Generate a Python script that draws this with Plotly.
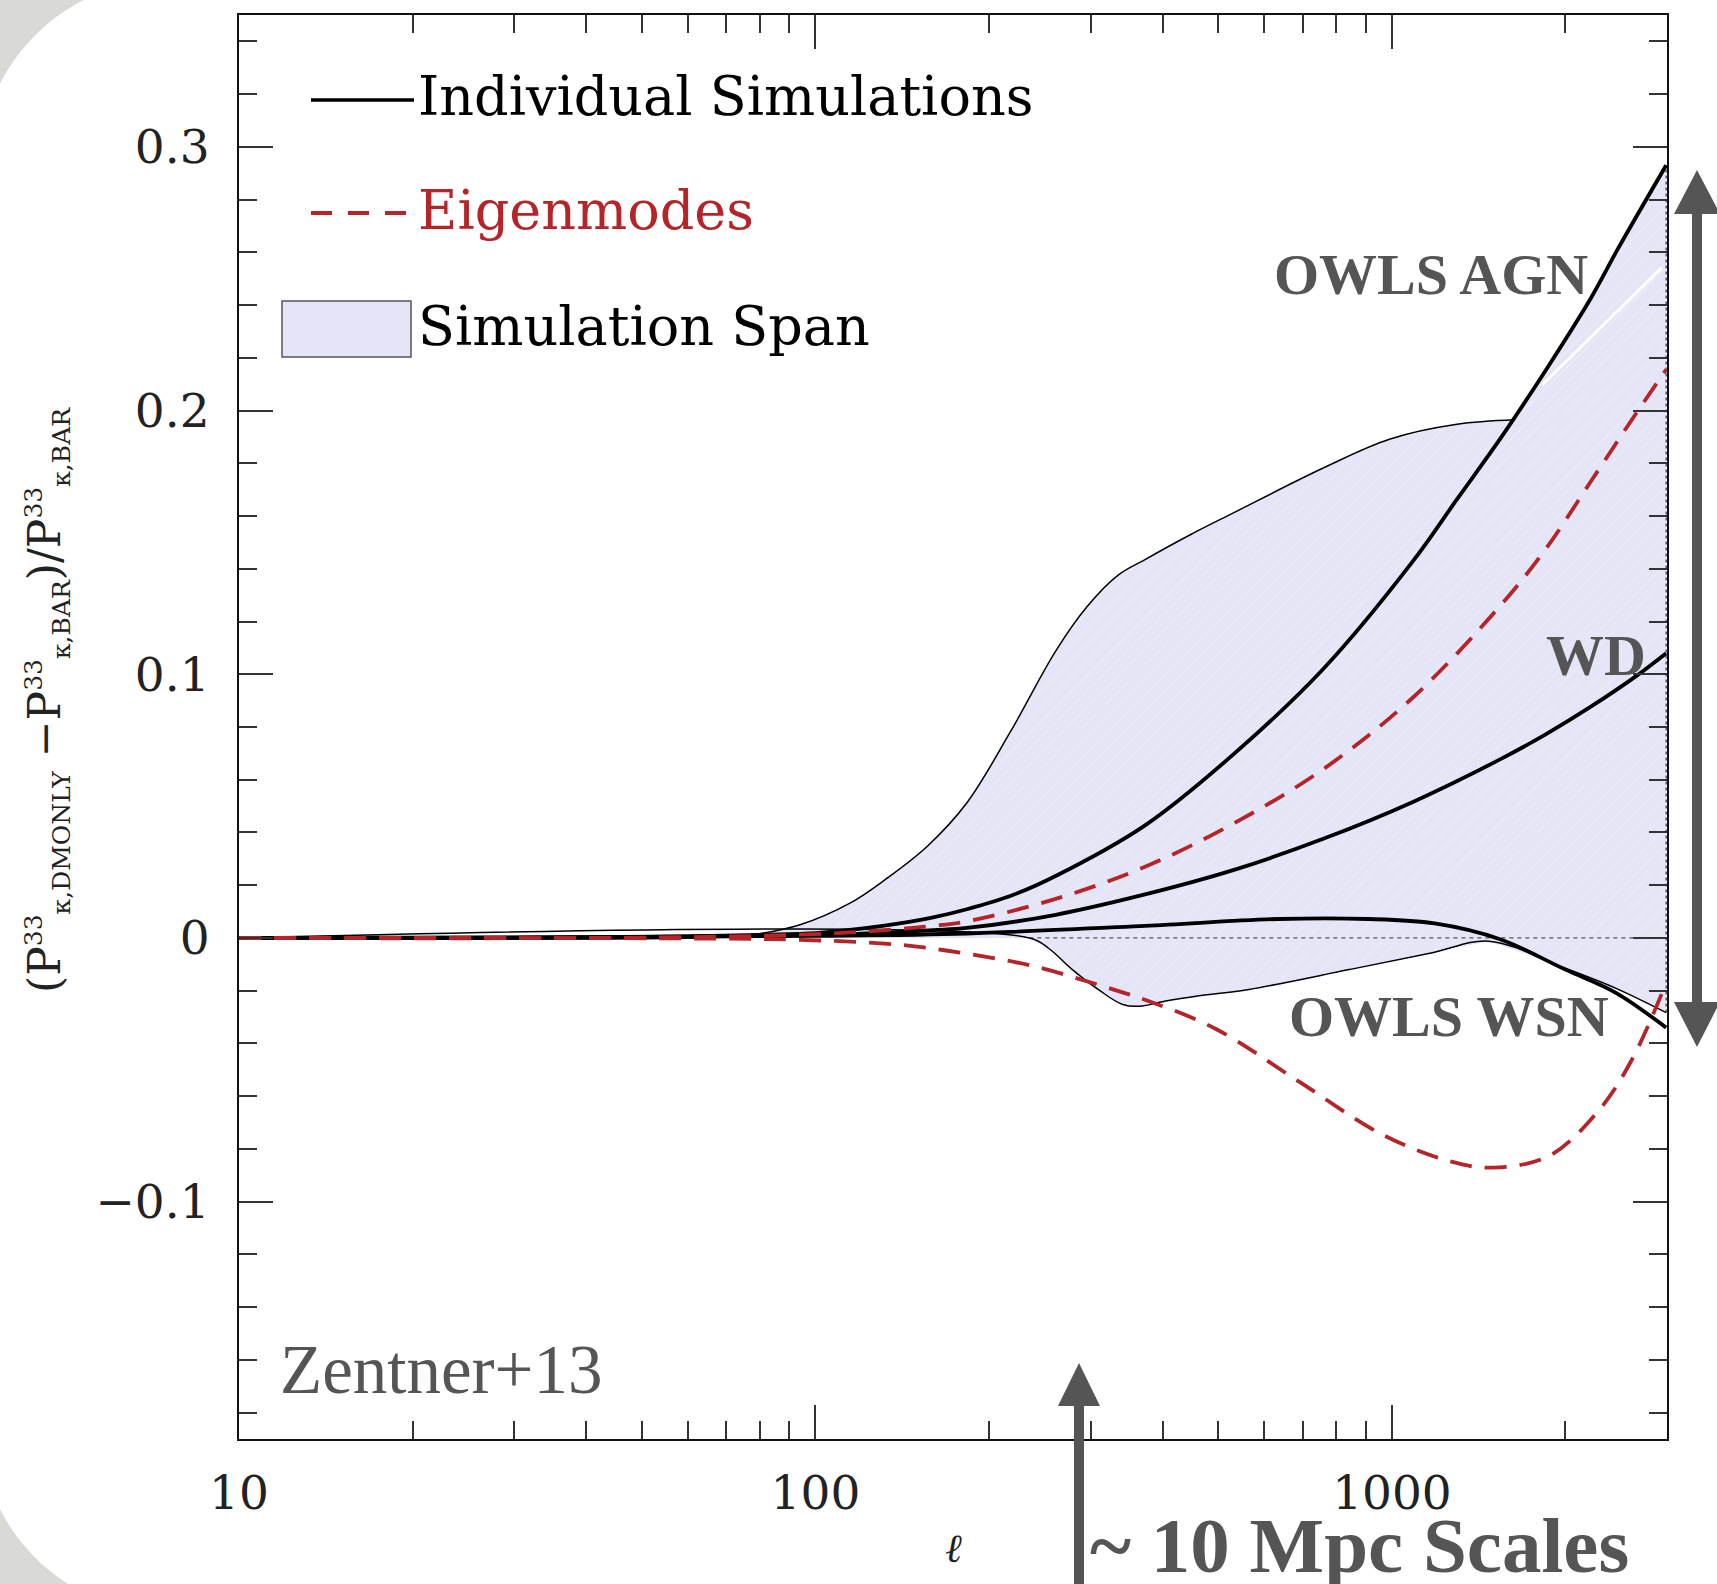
import numpy as np
import plotly.graph_objects as go

# ---------------- data ----------------
agn_l = [10, 20, 40, 60, 80, 100, 120, 140, 160, 183, 220, 261, 373, 532, 760, 1085, 1297, 1549, 1851, 2213, 2464, 2990]
agn_y = [0.0, 0.0, 0.0003, 0.0006, 0.0012, 0.0018, 0.0035, 0.0055, 0.0078, 0.0109, 0.0163, 0.0235, 0.0427, 0.0698,
         0.102, 0.1426, 0.1664, 0.190, 0.2155, 0.2426, 0.2612, 0.293]

wd_l = [10, 40, 80, 114, 160, 183, 261, 373, 532, 760, 1085, 1549, 1851, 2213, 2644, 2990]
wd_y = [0.0, 0.0002, 0.0008, 0.0015, 0.003, 0.0038, 0.0088, 0.0165, 0.0258, 0.0376, 0.0515, 0.068, 0.0773,
        0.0877, 0.0991, 0.108]

wsn_l = [10, 40, 100, 183, 373, 636, 908, 1186, 1540, 2000, 2442, 2990]
wsn_y = [0.0, 0.0002, 0.0008, 0.0017, 0.0046, 0.0072, 0.0072, 0.0055, -0.0005, -0.012, -0.0207, -0.034]

span_hi_l = [10, 60, 78, 94, 115, 133, 156, 183, 218, 261, 296, 335, 373, 446, 532, 760, 993, 1297, 1635, 1851,
             2213, 2464, 2990]
span_hi_y = [0.0, 0.0, 0.0013, 0.005, 0.0133, 0.0226, 0.0346, 0.0512, 0.0783, 0.1088, 0.1257, 0.1376, 0.1435,
             0.1528, 0.1613, 0.1782, 0.1892, 0.1948, 0.1965, 0.2155, 0.2426, 0.2612, 0.293]
span_hi_join = 1635   # where the upper envelope meets the OWLS AGN curve

span_lo_l = [10, 235, 254, 279, 311, 341, 365, 405, 463, 565, 843, 1175, 1472, 2000, 2442, 2990]
span_lo_y = [0.0, 0.0, -0.004, -0.012, -0.0199, -0.0252, -0.0259, -0.0239, -0.0219, -0.0195, -0.012, -0.0056,
             -0.0012, -0.0115, -0.019, -0.0283]

eig1_l = [10, 60, 113, 160, 183, 261, 373, 532, 760, 1085, 1549, 1851, 2213, 2644, 2990]
eig1_y = [0.0, 0.0003, 0.002, 0.0046, 0.0063, 0.0148, 0.027, 0.0435, 0.064, 0.091, 0.1265, 0.1477, 0.1731,
          0.1985, 0.2155]

eig2_l = [10, 60, 94, 140, 182, 238, 311, 379, 495, 690, 961, 1256, 1493, 1871, 2284, 2610, 2990]
eig2_y = [0.0, -0.0002, -0.0007, -0.0026, -0.0059, -0.0106, -0.0179, -0.024, -0.0345, -0.0545, -0.0745, -0.0846,
          -0.0871, -0.0827, -0.0654, -0.046, -0.017]

seam_l = [1822, 2939]
seam_y = [0.2097, 0.2542]

x_tickvals = [10, 100, 1000]
x_ticktext = ["10", "100", "1000"]
x_minor = [20, 30, 40, 50, 60, 70, 80, 90, 200, 300, 400, 500, 600, 700, 800, 900, 2000]
y_tickvals = [-0.1, 0, 0.1, 0.2, 0.3]
y_ticktext = ["\u22120.1", "0", "0.1", "0.2", "0.3"]

# ---------------- layout geometry (window pixel coordinates) ----------------
W, H = 1717, 1584
PLOT_L, PLOT_R, PLOT_T, PLOT_B = 239, 1667, 15, 1439
ML, MT, MR, MB = PLOT_L, PLOT_T, W - PLOT_R, H - PLOT_B
PW, PH = PLOT_R - PLOT_L, PLOT_B - PLOT_T


def px(x):
    return (x - PLOT_L) / PW


def py(y):
    return (PLOT_B - y) / PH


BLACK = "#000000"
RED = "#b52428"
GREY = "#555555"
SPAN = "#e4e5f7"
SPL = dict(shape="spline", smoothing=1.0)

fig = go.Figure()

# simulation span fill
poly_x = span_hi_l + span_lo_l[::-1]
poly_y = span_hi_y + span_lo_y[::-1]
fig.add_trace(go.Scatter(x=poly_x, y=poly_y, mode="lines", fill="toself", fillcolor=SPAN,
                         fillpattern=dict(shape="/", bgcolor=SPAN, fgcolor="#ffffff", fgopacity=0.45,
                                          size=11, solidity=0.08),
                         line=dict(width=0, color=SPAN), hoverinfo="skip", showlegend=False))
fig.add_trace(go.Scatter(x=seam_l, y=seam_y, mode="lines", line=dict(color="white", width=3),
                         showlegend=False, hoverinfo="skip"))
fig.add_trace(go.Scatter(x=[span_lo_l[1], span_lo_l[-1]], y=[0, 0], mode="lines",
                         line=dict(color=GREY, width=1.2, dash="4px,4px"), showlegend=False))
fig.add_trace(go.Scatter(x=[span_lo_l[-1], span_hi_l[-1]], y=[span_lo_y[-1], span_hi_y[-1]], mode="lines",
                         line=dict(color="#333", width=1.2, dash="3px,3px"), showlegend=False))
# envelope outlines
n_join = span_hi_l.index(span_hi_join) + 1
fig.add_trace(go.Scatter(x=span_hi_l[:n_join], y=span_hi_y[:n_join], mode="lines",
                         line=dict(color=BLACK, width=1.5, **SPL), showlegend=False))
fig.add_trace(go.Scatter(x=span_lo_l, y=span_lo_y, mode="lines",
                         line=dict(color=BLACK, width=1.5, **SPL), showlegend=False))
# individual simulations
for xs, ys in [(agn_l, agn_y), (wd_l, wd_y), (wsn_l, wsn_y)]:
    fig.add_trace(go.Scatter(x=xs, y=ys, mode="lines", line=dict(color=BLACK, width=3.8, **SPL),
                             showlegend=False))
# eigenmodes
for xs, ys in [(eig1_l, eig1_y), (eig2_l, eig2_y)]:
    fig.add_trace(go.Scatter(x=xs, y=ys, mode="lines",
                             line=dict(color=RED, width=3.8, dash="22px,13px", **SPL), showlegend=False))

# ---------------- shapes: background, arrows, legend ----------------
shapes = []
R0, K = 192, 106
pts = [("M", (1900, -21)), ("L", (171, -21)), ("C", (171 - K, -21, -21, 171 - K, -21, 171)),
       ("L", (-21, 1614 - R0)), ("C", (-21, 1614 - R0 + K, 171 - K, 1614, 171, 1614)),
       ("L", (1900, 1614))]
path = ""
for cmd, c in pts:
    coords = [f"{px(c[i]):.5f},{py(c[i + 1]):.5f}" for i in range(0, len(c), 2)]
    path += cmd + " ".join(coords) + " "
path += "Z"
shapes.append(dict(type="path", xref="paper", yref="paper", path=path, fillcolor="white",
                   line=dict(width=0), layer="below"))


def poly(points):
    return "M" + " L".join(f"{px(a):.5f},{py(b):.5f}" for a, b in points) + " Z"


ax = 1697
shapes.append(dict(type="path", xref="paper", yref="paper", fillcolor=GREY, line=dict(width=0),
                   path=poly([(ax - 5, 210), (ax + 5, 210), (ax + 5, 1005), (ax - 5, 1005)])))
shapes.append(dict(type="path", xref="paper", yref="paper", fillcolor=GREY, line=dict(width=0),
                   path=poly([(ax, 170), (ax + 23, 214), (ax - 23, 214)])))
shapes.append(dict(type="path", xref="paper", yref="paper", fillcolor=GREY, line=dict(width=0),
                   path=poly([(ax, 1047), (ax + 23, 1002), (ax - 23, 1002)])))
bx = 1079
shapes.append(dict(type="path", xref="paper", yref="paper", fillcolor=GREY, line=dict(width=0),
                   path=poly([(bx - 5, 1400), (bx + 5, 1400), (bx + 5, 1600), (bx - 5, 1600)])))
shapes.append(dict(type="path", xref="paper", yref="paper", fillcolor=GREY, line=dict(width=0),
                   path=poly([(bx, 1363), (bx + 21, 1406), (bx - 21, 1406)])))

shapes.append(dict(type="line", xref="paper", yref="paper", x0=px(311), x1=px(414), y0=py(100), y1=py(100),
                   line=dict(color=BLACK, width=3.5)))
shapes.append(dict(type="line", xref="paper", yref="paper", x0=px(311), x1=px(414), y0=py(213), y1=py(213),
                   line=dict(color=RED, width=3.8, dash="21px,16px")))
shapes.append(dict(type="rect", xref="paper", yref="paper", x0=px(282), x1=px(411), y0=py(301), y1=py(357),
                   fillcolor=SPAN, line=dict(color=GREY, width=1.5)))

# ---------------- annotations ----------------
ann = []
LEG_FONT = "DejaVu Serif"
for txt, yy, col in [("Individual Simulations", 97, BLACK), ("Eigenmodes", 211, RED),
                     ("Simulation Span", 326, BLACK)]:
    ann.append(dict(text=txt, x=px(416), y=py(yy), xref="paper", yref="paper",
                    xanchor="left", yanchor="middle", showarrow=False,
                    font=dict(family=LEG_FONT, size=54, color=col)))

LAB = "Liberation Serif"
ann.append(dict(text="Zentner+13", x=px(278), y=py(1370), xref="paper", yref="paper",
                xanchor="left", yanchor="middle", showarrow=False,
                font=dict(family=LAB, size=69, color=GREY)))
for txt, xx, yy in [("OWLS AGN", 1431, 275), ("WD", 1596, 656), ("OWLS WSN", 1449, 1016)]:
    ann.append(dict(text=f"<b>{txt}</b>", x=px(xx), y=py(yy), xref="paper", yref="paper",
                    xanchor="center", yanchor="middle", showarrow=False,
                    font=dict(family=LAB, size=58, color=GREY)))
ann.append(dict(text="<b>~ 10 Mpc Scales</b>", x=px(1088), y=py(1545), xref="paper", yref="paper",
                xanchor="left", yanchor="middle", showarrow=False,
                font=dict(family=LAB, size=79, color=GREY)))

small = "<span style='font-size:25px'>{}</span>"
ylab = ("(P<sup>" + small.format("33") + "</sup><sub>" + small.format("\u03ba,DMONLY") + "</sub> \u2212P<sup>"
        + small.format("33") + "</sup><sub>" + small.format("\u03ba,BAR") + "</sub>)/P<sup>"
        + small.format("33") + "</sup><sub>" + small.format("\u03ba,BAR") + "</sub>")
ann.append(dict(text=ylab, x=px(47), y=py(700), xref="paper", yref="paper", textangle=-90,
                xanchor="center", yanchor="middle", showarrow=False,
                font=dict(family="DejaVu Serif", size=44, color="#222")))
ann.append(dict(text="<i>\u2113</i>", x=0.5, y=py(1548), xref="paper", yref="paper",
                xanchor="center", yanchor="middle", showarrow=False,
                font=dict(family="DejaVu Serif", size=40, color="#222")))

TICKFONT = dict(family="DejaVu Serif", size=47, color="#222")
axis_common = dict(showline=True, linecolor="#111", linewidth=2, mirror="allticks", showgrid=False,
                   zeroline=False, ticks="inside", ticklen=34, tickwidth=1.6, tickcolor="#333",
                   tickfont=TICKFONT)

fig.update_layout(
    width=W, height=H,
    margin=dict(l=ML, r=MR, t=MT, b=MB, pad=0),
    paper_bgcolor="#d9dad5",
    plot_bgcolor="white",
    showlegend=False,
    shapes=shapes,
    annotations=ann,
    xaxis=dict(type="log", range=[1, np.log10(3000)], tickvals=x_tickvals, ticktext=x_ticktext,
               ticklabelstandoff=12,
               minor=dict(tickvals=x_minor, ticks="inside", ticklen=18, tickwidth=1.6, tickcolor="#333",
                          showgrid=False),
               **axis_common),
    yaxis=dict(range=[-0.19, 0.35], tickvals=y_tickvals, ticktext=y_ticktext, ticklabelstandoff=18,
               minor=dict(dtick=0.02, tick0=0, ticks="inside", ticklen=18, tickwidth=1.6, tickcolor="#333",
                          showgrid=False),
               **axis_common),
)

fig.write_html("out.html", config={"displayModeBar": False},
               post_script="document.body.style.margin='0';document.body.style.overflow='hidden';")
